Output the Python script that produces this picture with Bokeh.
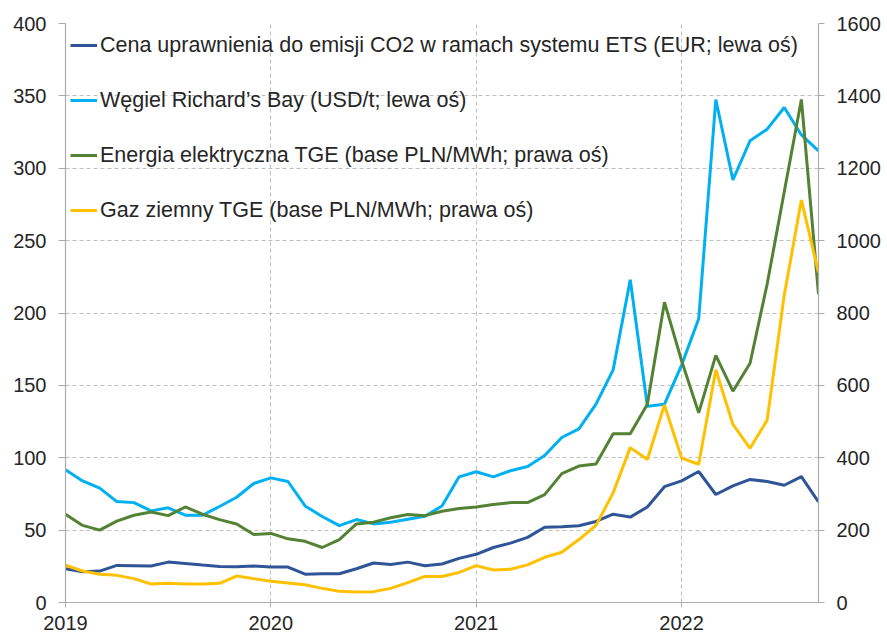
from bokeh.plotting import figure
from bokeh.models import Range1d, LinearAxis, FixedTicker, Legend, LegendItem
from bokeh.embed import file_html
from bokeh.resources import INLINE

# Monthly data, Jan 2019 .. Sep 2022 (45 months)
months = list(range(45))
year_ticks = [0, 12, 24, 36]
year_labels = ["2019", "2020", "2021", "2022"]

co2_eur = [23.3, 21.2, 21.7, 25.6, 25.4, 25.2, 27.9, 27.0, 25.9, 24.9, 24.7, 25.2,
           24.5, 24.5, 19.6, 19.9, 19.9, 23.3, 27.3, 26.3, 27.9, 25.4, 26.6, 30.5,
           33.3, 38, 41, 45, 52, 52.4, 53, 56, 61, 59, 66, 80,
           84, 90.5, 74.6, 80.6, 85, 83.6, 81, 87, 69.5]
coal_usd = [91.7, 84, 79, 69.7, 69, 63.3, 65.4, 60.3, 60.3, 66.3, 72.7, 82.2,
            86.1, 83.6, 66.7, 59.4, 53.1, 57.3, 54.3, 55.4, 57.5, 59.6, 66.7, 86.8,
            90.3, 86.8, 91, 94, 101.6, 114, 120, 137, 160.7, 223, 135.6, 137,
            164, 196, 347.5, 292, 319, 327, 342, 323, 312]
power_pln = [244, 213, 200, 225, 241, 250, 240, 264, 244, 229, 217, 188,
             191, 176, 169, 152, 174, 217, 222, 234, 243, 240, 252, 260,
             264, 271, 276, 276, 298, 356, 377, 383, 466, 466, 548, 830,
             668, 524, 683, 584, 661, 880, 1135, 1390, 852]
gas_pln = [103, 87, 78, 75, 66, 51, 53, 51, 51, 53, 73, 66,
           59, 54, 49, 39, 31, 29, 30, 39, 55, 72, 72, 83,
           102, 90, 92, 104, 125, 139, 174, 213, 303, 428, 395, 546,
           399, 382, 643, 492, 426, 504, 850, 1112, 912]

left_ticks = [0, 50, 100, 150, 200, 250, 300, 350, 400]
right_ticks = [0, 200, 400, 600, 800, 1000, 1200, 1400, 1600]

labels = ["Cena uprawnienia do emisji CO2 w ramach systemu ETS (EUR; lewa oś)",
          "Węgiel Richard’s Bay (USD/t; lewa oś)",
          "Energia elektryczna TGE (base PLN/MWh; prawa oś)",
          "Gaz ziemny TGE (base PLN/MWh; prawa oś)"]
colors = ["#2F5597", "#00B0F0", "#548235", "#FFC000"]

FONT = "Liberation Sans"
TXT = "#262626"
AX = "#ABABAB"

p = figure(width=887, height=636, output_backend="svg", toolbar_location=None,
           x_range=Range1d(0, 44), y_range=Range1d(0, 400),
           min_border_left=65, min_border_right=69, min_border_top=23,
           min_border_bottom=34)
p.extra_y_ranges = {"right": Range1d(0, 1600)}
p.outline_line_color = None
p.background_fill_color = "white"

r1 = p.line(months, co2_eur, line_color=colors[0], line_width=3)
r2 = p.line(months, coal_usd, line_color=colors[1], line_width=3)
r3 = p.line(months, power_pln, line_color=colors[2], line_width=3, y_range_name="right")
r4 = p.line(months, gas_pln, line_color=colors[3], line_width=3, y_range_name="right")

# x axis
xa = p.below[0]
xa.ticker = FixedTicker(ticks=year_ticks)
xa.major_label_overrides = {t: l for t, l in zip(year_ticks, year_labels)}
xa.minor_tick_line_color = None
xa.major_tick_in = 0
xa.major_tick_out = 5
xa.major_label_standoff = 8

# left axis
ya = p.left[0]
ya.ticker = FixedTicker(ticks=left_ticks)
ya.minor_tick_line_color = None
ya.major_tick_in = 0
ya.major_tick_out = 7
ya.major_label_standoff = 12

# right axis
yr = LinearAxis(y_range_name="right", ticker=FixedTicker(ticks=right_ticks))
yr.minor_tick_line_color = None
yr.major_tick_in = 0
yr.major_tick_out = 6
yr.major_label_standoff = 12
p.add_layout(yr, "right")

for ax in (xa, ya, yr):
    ax.axis_line_color = AX
    ax.major_tick_line_color = AX
    ax.axis_line_width = 1.2
    ax.major_label_text_font = FONT
    ax.major_label_text_font_size = "20px"
    ax.major_label_text_color = TXT

p.xgrid.ticker = FixedTicker(ticks=year_ticks)
p.xgrid.grid_line_color = "#BFBFBF"
p.xgrid.grid_line_dash = "4 3"
p.ygrid.ticker = FixedTicker(ticks=left_ticks)
p.ygrid.grid_line_color = "#BFBFBF"
p.ygrid.grid_line_dash = "4 3"

legend = Legend(items=[LegendItem(label=l, renderers=[r]) for l, r in zip(labels, [r1, r2, r3, r4])],
                location="top_left")
legend.margin = 0
legend.padding = 5
legend.glyph_width = 27
legend.glyph_height = 34
legend.label_standoff = 3
legend.spacing = 21
legend.label_text_font = FONT
legend.label_text_font_size = "21.5px"
legend.label_text_color = TXT
legend.background_fill_alpha = 0
legend.border_line_alpha = 0
p.add_layout(legend, "center")

open("out.html", "w").write(file_html(p, INLINE))
